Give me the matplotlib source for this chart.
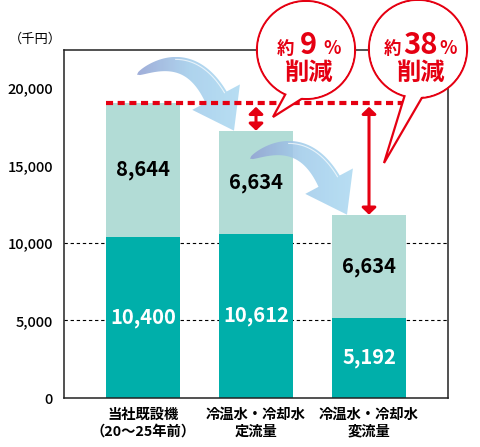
import numpy as np
import matplotlib
matplotlib.use('Agg')
import matplotlib.pyplot as plt
from matplotlib.patches import Circle, Polygon
from matplotlib.image import AxesImage
from matplotlib.colors import LinearSegmentedColormap

plt.rcParams['font.family'] = ['Noto Sans CJK JP', 'DejaVu Sans']

# data (千円)
categories = ['当社既設機\n（20～25年前）', '冷温水・冷却水\n定流量', '冷温水・冷却水\n変流量']
base_cost = [10400, 10612, 5192]   # dark part
upper_cost = [8644, 6634, 6634]    # light part
yticks = [0, 5000, 10000, 15000, 20000]
grid_vals = [5000, 10000]
cut_pct = ['9', '38']              # 約○%削減

DARK = '#00AFAA'
LIGHT = '#B2DCD6'
RED = '#E50012'

fig = plt.figure(figsize=(4.8, 4.47), dpi=100)
ax = fig.add_axes([64 / 480, 49 / 447, 384 / 480, 348 / 447])

x = np.arange(len(categories))
w = 0.655
totals = [b + u for b, u in zip(base_cost, upper_cost)]

ax.set_xlim(-0.699, 2.699)
ax.set_ylim(0, 22450)

for g in grid_vals:
    ax.axhline(g, color='black', lw=0.8, ls=(0, (3, 2.5)), zorder=0)

ax.bar(x, base_cost, w, color=DARK, zorder=2)
ax.bar(x, upper_cost, w, bottom=base_cost, color=LIGHT, zorder=2)

for xi, b, u in zip(x, base_cost, upper_cost):
    ax.text(xi, b / 2, f'{b:,}', color='white', ha='center', va='center',
            fontsize=14.5, fontweight='bold', zorder=6)
    ax.text(xi, b + u / 2, f'{u:,}', color='black', ha='center', va='center',
            fontsize=14.5, fontweight='bold', zorder=6)

ax.set_xticks(x)
ax.set_xticklabels(categories)
ax.set_yticks(yticks)
ax.set_yticklabels([f'{v:,}' for v in yticks])
ax.tick_params(length=0)
ax.tick_params(axis='y', pad=8, labelsize=10.5)
ax.tick_params(axis='x', pad=7, labelsize=10.3)
for lbl in ax.get_xticklabels():
    lbl.set_fontweight('bold')
    lbl.set_linespacing(1.25)
for lbl in ax.get_yticklabels():
    lbl.set_fontweight('medium')
for sp in ax.spines.values():
    sp.set_linewidth(1.1)
    sp.set_color('#222222')

ax.text(-0.0755, 1.032, '（千円）', transform=ax.transAxes, ha='center', va='center', fontsize=9.5)

# red dashed line at the old cost
ax.plot([x[0] - w / 2, x[-1] + w / 2], [totals[0], totals[0]], color=RED, lw=3,
        ls=(0, (1.7, 1.1)), zorder=4)

# red double arrows
for i in (1, 2):
    ax.annotate('', xy=(x[i], totals[i]), xytext=(x[i], totals[0] - 260),
                arrowprops=dict(arrowstyle='<|-|>,head_length=0.4,head_width=0.42',
                                color=RED, lw=2.2, shrinkA=0, shrinkB=0), zorder=5)

# blue curved arrows
arrow_cmap = LinearSegmentedColormap.from_list('arr', ['#93A3D4', '#A3CDEB', '#AEDAF2'])


def curved_arrow(tail, tip):
    d = np.array([0.47, -0.88])
    d = d / np.linalg.norm(d)
    L, hw, bw = 38, 27, 24
    hb = tip - L * d
    c = hb - 58 * d
    t = np.linspace(0, 1, 50)
    P = ((1 - t) ** 2)[:, None] * tail + (2 * (1 - t) * t)[:, None] * c + (t ** 2)[:, None] * hb
    T = (2 * (1 - t))[:, None] * (c - tail) + (2 * t)[:, None] * (hb - c)
    T = T / np.linalg.norm(T, axis=1)[:, None]
    N = np.column_stack([-T[:, 1], T[:, 0]])
    wd = bw / 2 * t ** 0.5
    left = P + N * wd[:, None]
    right = P - N * wd[:, None]
    ne = np.array([-d[1], d[0]])
    pts = np.vstack([left, [hb + ne * hw], [tip], [hb - ne * hw], right[::-1]])
    inv = ax.transData.inverted()
    pd_ = inv.transform(pts)
    poly = Polygon(pd_, closed=True, facecolor='none', edgecolor='none', zorder=3)
    ax.add_patch(poly)
    im = AxesImage(ax, cmap=arrow_cmap, interpolation='bilinear', origin='lower',
                   extent=(pd_[:, 0].min(), pd_[:, 0].max(), pd_[:, 1].min(), pd_[:, 1].max()),
                   alpha=0.88, zorder=3)
    im.set_data(np.tile(np.linspace(0, 1, 256), (2, 1)))
    ax.add_image(im)
    im.set_clip_path(poly)
    hl = inv.transform((P + N * (wd - 2.5)[:, None])[20:])
    ax.plot(hl[:, 0], hl[:, 1], color='white', lw=0.8, alpha=0.7, zorder=3.1)


for i in range(len(x) - 1):
    tip = ax.transData.transform((x[i + 1] - w / 2, totals[i + 1])) + np.array([15, 0])
    tail = ax.transData.transform((x[i], totals[i + 1])) + np.array([-6, 56])
    curved_arrow(tail, tip)

# speech bubbles (pixel overlay)
ov = fig.add_axes([0, 0, 1, 1], zorder=5)
ov.set_xlim(0, 480)
ov.set_ylim(447, 0)
ov.axis('off')
ov.patch.set_alpha(0)

bubbles = [dict(c=(306, 50), r=49, tip=(273, 117), a=(115, 95), gaps=(5, 7)),
           dict(c=(418, 49), r=49, tip=(384, 163), a=(106, 85.5), gaps=(2, 2))]
renderer = fig.canvas.get_renderer()
for bub, pct in zip(bubbles, cut_pct):
    cx, cy = bub['c']
    r = bub['r']
    tip = np.array(bub['tip'], dtype=float)
    ov.add_patch(Circle((cx, cy), r, facecolor='white', edgecolor=RED, lw=1.6, zorder=1))
    inner = []
    for a in bub['a']:
        ar = np.deg2rad(a)
        q = np.array([cx + r * np.cos(ar), cy + r * np.sin(ar)])
        inner.append(tip + 1.3 * (q - tip))
    ov.add_patch(Polygon([inner[0], tip, inner[1]], closed=True, facecolor='white',
                         edgecolor=RED, lw=1.6, zorder=2))
    ov.add_patch(Circle((cx, cy), r - 1.0, facecolor='white', edgecolor='none', zorder=3))
    num = ov.text(cx + 2, 54, pct, color=RED, fontsize=21, fontweight='bold',
                  ha='center', va='baseline', zorder=4)
    bb = num.get_window_extent(renderer)
    ov.text(bb.x0 - bub['gaps'][0], 54, '約', color=RED, fontsize=12.5, fontweight='bold',
            ha='right', va='baseline', zorder=4)
    ov.text(bb.x1 + bub['gaps'][1], 54, '%', color=RED, fontsize=13, fontweight='bold',
            ha='left', va='baseline', zorder=4)
    ov.text(cx + 2, 73, '削減', color=RED, fontsize=17.5, fontweight='bold',
            ha='center', va='center', zorder=4)

plt.savefig('out.png', dpi=100)
